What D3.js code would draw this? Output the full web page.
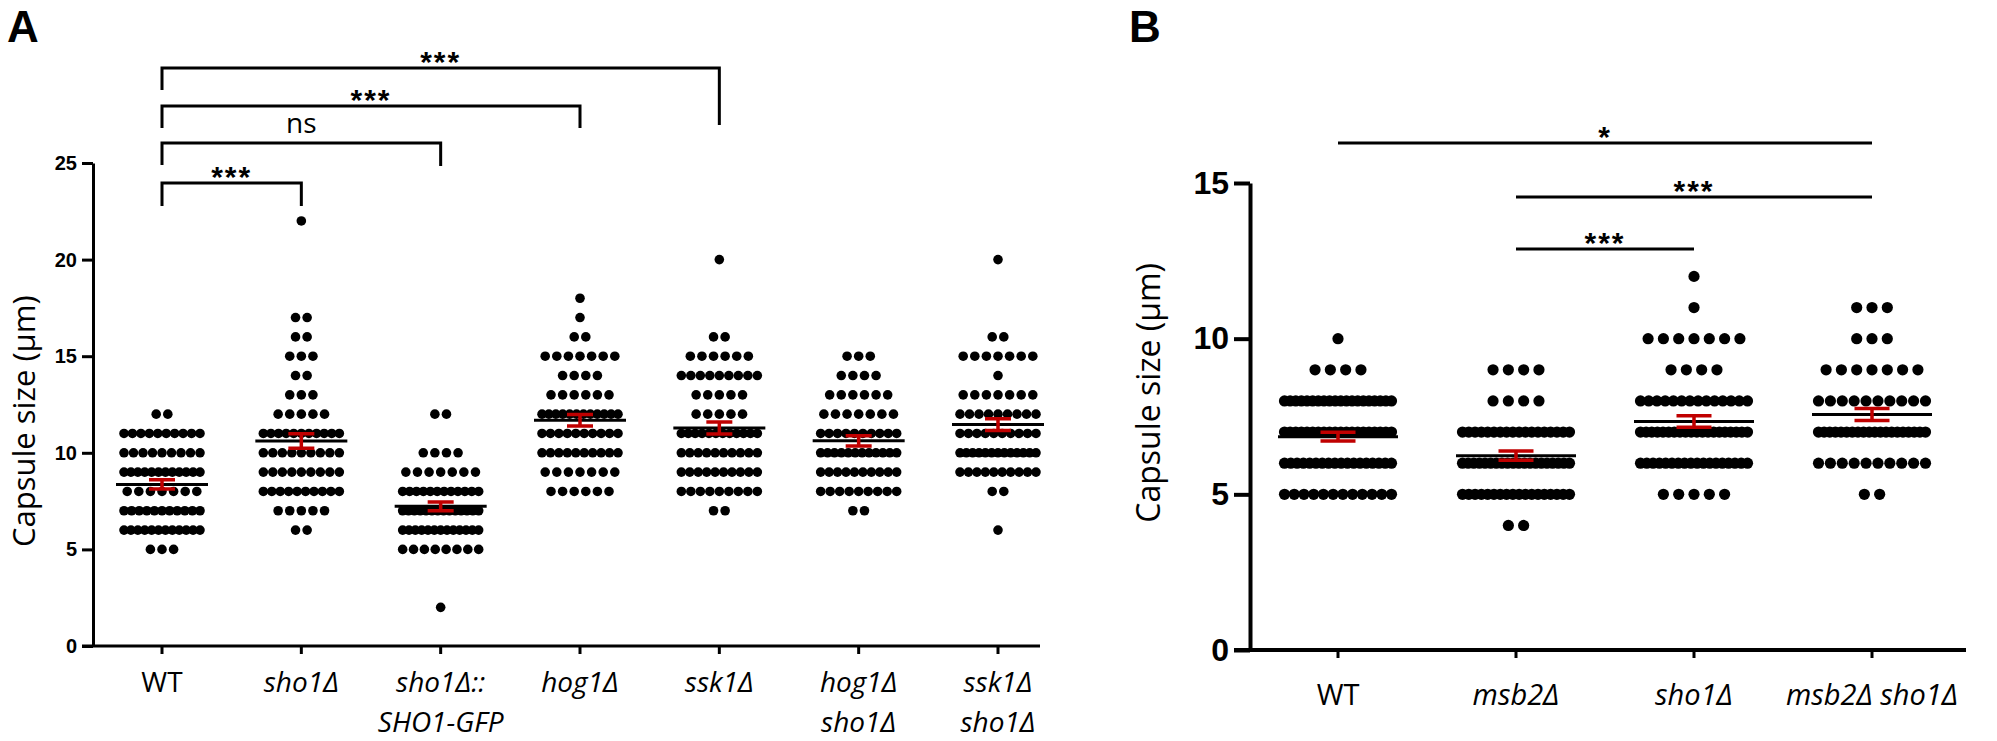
<!DOCTYPE html>
<html lang="en">
<head>
<meta charset="utf-8">
<script src="https://d3js.org/d3.v7.min.js"></script>
<style>
    body { margin: 0; background: #fff; overflow: hidden; }
    .tick text { font-family: "Liberation Sans", Arial, sans-serif; font-weight: bold; }
    .lbl { font-family: "Open Sans", sans-serif; fill: #000; }
    .star { font-family: "Liberation Sans", Arial, sans-serif; font-weight: bold; fill: #000; }
    .panel { font-family: "Liberation Sans", Arial, sans-serif; font-weight: bold; fill: #000; }
</style>
</head>
<body>
<svg id="chart" width="1997" height="741"></svg>
<script>
// ---- panel A data : [capsule size, number of cells] ----
var groupsA = ["WT", "sho1Δ", "sho1Δ::SHO1-GFP", "hog1Δ", "ssk1Δ", "hog1Δ sho1Δ", "ssk1Δ sho1Δ"];
var labelsA = [["WT"], ["sho1Δ"], ["sho1Δ::", "SHO1-GFP"], ["hog1Δ"], ["ssk1Δ"], ["hog1Δ", "sho1Δ"], ["ssk1Δ", "sho1Δ"]];
var wtA = [[12, 2], [11, 10], [10, 9], [9, 12], [8, 7], [7, 11], [6, 12], [5, 3]];
var sho1A = [[22, 1], [17, 2], [16, 2], [15, 3], [14, 2], [13, 3], [12, 5], [11, 11], [10, 9], [9, 9], [8, 10], [7, 5], [6, 2]];
var gfpA = [[12, 2], [10, 4], [9, 7], [8, 12], [7, 14], [6, 13], [5, 8], [2, 1]];
var hog1A = [[18, 1], [17, 1], [16, 2], [15, 7], [14, 4], [13, 6], [12, 12], [11, 10], [10, 10], [9, 7], [8, 6]];
var ssk1A = [[20, 1], [16, 2], [15, 6], [14, 9], [13, 5], [12, 5], [11, 12], [10, 10], [9, 10], [8, 9], [7, 2]];
var hogShoA = [[15, 3], [14, 4], [13, 6], [12, 7], [11, 10], [10, 12], [9, 10], [8, 9], [7, 2]];
var sskShoA = [[20, 1], [16, 2], [15, 7], [14, 1], [13, 7], [12, 9], [11, 10], [10, 13], [9, 10], [8, 2], [6, 1]];
var countsA = [wtA, sho1A, gfpA, hog1A, ssk1A, hogShoA, sskShoA];
var ticksA = [0, 5, 10, 15, 20, 25];
var compA = [["WT", "sho1Δ", "***"], ["WT", "sho1Δ::SHO1-GFP", "ns"], ["WT", "hog1Δ", "***"], ["WT", "ssk1Δ", "***"]];

// ---- panel B data ----
var groupsB = ["WT", "msb2Δ", "sho1Δ", "msb2Δ sho1Δ"];
var labelsB = [["WT"], ["msb2Δ"], ["sho1Δ"], ["msb2Δ sho1Δ"]];
var wtB = [[10, 1], [9, 4], [8, 20], [7, 20], [6, 18], [5, 12]];
var msb2B = [[9, 4], [8, 4], [7, 18], [6, 20], [5, 18], [4, 2]];
var sho1B = [[12, 1], [11, 1], [10, 7], [9, 4], [8, 14], [7, 20], [6, 18], [5, 5]];
var msbShoB = [[11, 3], [10, 3], [9, 7], [8, 10], [7, 20], [6, 10], [5, 2]];
var countsB = [wtB, msb2B, sho1B, msbShoB];
var ticksB = [0, 5, 10, 15];
var compB = [["WT", "msb2Δ sho1Δ", "*"], ["msb2Δ", "msb2Δ sho1Δ", "***"], ["msb2Δ", "sho1Δ", "***"]];

var svg = d3.select("#chart");

function expand(rows) {
    var out = [];
    rows.forEach(function (r) { for (var i = 0; i < r[1]; i++) out.push(r[0]); });
    return out;
}

function drawPanel(p) {
    var g = svg.append("g");

    // dots, one row per value
    var pts = [];
    p.counts.forEach(function (rows, gi) {
        var cx = p.x(p.groups[gi]);
        rows.forEach(function (r) {
            var n = r[1];
            var step = n > 1 ? Math.min(p.dotStep, p.rowSpan / (n - 1)) : 0;
            for (var i = 0; i < n; i++) {
                pts.push({ x: cx + (i - (n - 1) / 2) * step, v: r[0] });
            }
        });
    });
    g.append("g").selectAll("circle")
        .data(pts)
        .join("circle")
        .attr("cx", function (d) { return d.x; })
        .attr("cy", function (d) { return p.y(d.v); })
        .attr("r", p.r)
        .attr("fill", "#000");

    // mean + SEM
    var stats = p.counts.map(function (rows, gi) {
        var vals = expand(rows);
        var m = d3.mean(vals);
        var sem = d3.deviation(vals) / Math.sqrt(vals.length);
        return { x: p.x(p.groups[gi]), m: m, sem: sem };
    });
    g.append("g").selectAll("line")
        .data(stats)
        .join("line")
        .attr("x1", function (d) { return d.x - p.meanW / 2; })
        .attr("x2", function (d) { return d.x + p.meanW / 2; })
        .attr("y1", function (d) { return p.y(d.m); })
        .attr("y2", function (d) { return p.y(d.m); })
        .attr("stroke", "#000")
        .attr("stroke-width", 3);
    g.append("g").selectAll("path")
        .data(stats)
        .join("path")
        .attr("d", function (d) {
            var t = p.y(d.m + d.sem), b = p.y(d.m - d.sem), h = p.capW / 2;
            return "M" + (d.x - h) + "," + t + "H" + (d.x + h) +
                "M" + d.x + "," + t + "V" + b +
                "M" + (d.x - h) + "," + b + "H" + (d.x + h);
        })
        .attr("fill", "none")
        .attr("stroke", "#c00000")
        .attr("stroke-width", 3.5);

    // y axis
    var ay = g.append("g")
        .attr("transform", "translate(" + p.axisX + ",0)")
        .call(d3.axisLeft(p.y).tickValues(p.ticks).tickSize(p.tickLen).tickSizeOuter(0).tickPadding(5));
    ay.selectAll("path, line").attr("stroke", "#000").attr("stroke-width", p.axisW);
    ay.selectAll("text").style("font-size", p.tickFont + "px").attr("fill", "#000");

    // x axis
    g.append("line")
        .attr("x1", p.axisX - p.tickLen).attr("x2", p.xEnd)
        .attr("y1", p.y(0)).attr("y2", p.y(0))
        .attr("stroke", "#000").attr("stroke-width", p.axisW);
    g.append("g").selectAll("line")
        .data(p.groups)
        .join("line")
        .attr("x1", function (d) { return p.x(d); })
        .attr("x2", function (d) { return p.x(d); })
        .attr("y1", p.y(0))
        .attr("y2", p.y(0) + 8)
        .attr("stroke", "#000").attr("stroke-width", 3);

    // category labels
    var lab = g.append("g").selectAll("text")
        .data(p.labels)
        .join("text")
        .attr("class", "lbl")
        .attr("text-anchor", "middle")
        .style("font-size", p.labFont + "px")
        .style("font-style", function (d) { return d[0] === "WT" ? "normal" : "italic"; });
    lab.each(function (lines, i) {
        var cx = p.x(p.groups[i]);
        d3.select(this).selectAll("tspan")
            .data(lines)
            .join("tspan")
            .attr("x", cx)
            .attr("y", function (d, j) { return p.labY + j * 40; })
            .text(function (d) { return d; });
    });

    // y title
    g.append("text")
        .attr("class", "lbl")
        .attr("transform", "translate(" + p.titleX + "," + p.titleY + ") rotate(-90)")
        .attr("text-anchor", p.titleAnchor)
        .style("font-size", p.titleFont + "px")
        .text("Capsule size (µm)");

    // panel letter
    g.append("text")
        .attr("class", "panel")
        .attr("x", p.letterX).attr("y", 42)
        .style("font-size", "44px")
        .text(p.letter);

    // significance
    p.comps.forEach(function (c, i) {
        var x1 = p.x(c[0]), x2 = p.x(c[1]);
        var ly = p.lineY[i];
        var d = p.drops ? "M" + x1 + "," + (ly + p.drops[i][0]) + "V" + ly + "H" + x2 + "V" + (ly + p.drops[i][1])
                        : "M" + x1 + "," + ly + "H" + x2;
        g.append("path")
            .attr("d", d)
            .attr("fill", "none")
            .attr("stroke", "#000")
            .attr("stroke-width", 3);
        var isNs = c[2] === "ns";
        g.append("text")
            .attr("class", isNs ? "lbl" : "star")
            .attr("x", (x1 + x2) / 2)
            .attr("y", isNs ? ly - 10 : ly + 4)
            .attr("text-anchor", "middle")
            .style("font-size", isNs ? "28px" : "30px")
            .style("letter-spacing", isNs ? "0px" : "2px")
            .text(c[2]);
    });
}

drawPanel({
    groups: groupsA, labels: labelsA, counts: countsA, ticks: ticksA, comps: compA,
    x: d3.scalePoint().domain(groupsA).range([162, 998]),
    y: d3.scaleLinear().domain([0, 25]).range([646, 163]),
    axisX: 93, xEnd: 1040, tickLen: 11, axisW: 3, tickFont: 20,
    r: 4.8, dotStep: 11.6, rowSpan: 76, meanW: 92, capW: 26,
    labFont: 28, labY: 692,
    titleX: 35, titleY: 547, titleAnchor: "start", titleFont: 31,
    letter: "A", letterX: 7,
    lineY: [183, 143, 106, 68],
    drops: [[23, 23], [22, 23], [22, 22], [22, 57]]
});

drawPanel({
    groups: groupsB, labels: labelsB, counts: countsB, ticks: ticksB, comps: compB,
    x: d3.scalePoint().domain(groupsB).range([1338, 1872]),
    y: d3.scaleLinear().domain([0, 15]).range([650, 183]),
    axisX: 1250, xEnd: 1966, tickLen: 16, axisW: 4, tickFont: 32,
    r: 5.6, dotStep: 15.3, rowSpan: 107, meanW: 120, capW: 35,
    labFont: 29, labY: 705,
    titleX: 1160, titleY: 263, titleAnchor: "end", titleFont: 32,
    letter: "B", letterX: 1129,
    lineY: [143, 197, 249],
    drops: null
});
</script>
</body>
</html>
